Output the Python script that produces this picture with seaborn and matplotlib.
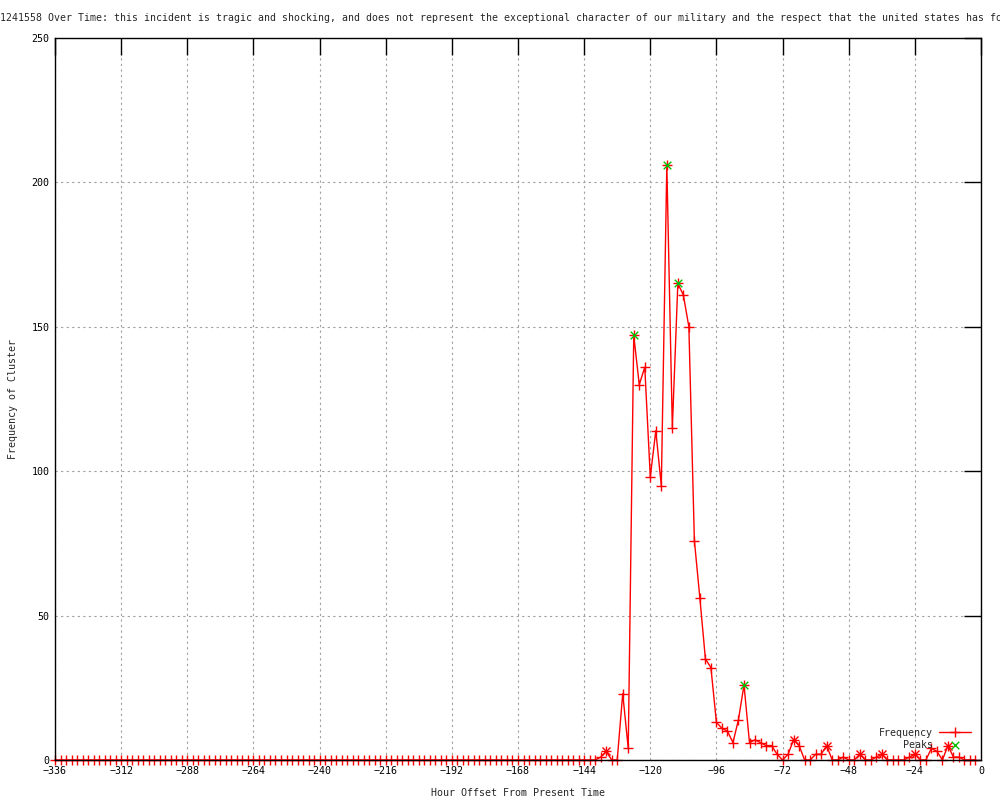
import numpy as np
import pandas as pd
import seaborn as sns
import matplotlib.pyplot as plt

# two-hour bins over the last two weeks
hours = np.arange(-336, 0, 2)

early_counts = [0, 0, 0, 0, 0, 0, 0, 0, 0, 0, 0, 0, 0, 0, 0, 0, 0, 0, 0, 0,
                0, 0, 0, 0, 0, 0, 0, 0, 0, 0, 0, 0, 0, 0, 0, 0, 0, 0, 0, 0,
                0, 0, 0, 0, 0, 0, 0, 0, 0, 0, 0, 0, 0, 0, 0, 0, 0, 0, 0, 0,
                0, 0, 0, 0, 0, 0, 0, 0, 0, 0, 0, 0, 0, 0, 0, 0, 0, 0, 0, 0,
                0, 0, 0, 0, 0, 0, 0, 0, 0, 0, 0, 0, 0, 0, 0, 0, 0, 0, 0]
late_counts = [1, 3, 0, 0, 23, 4, 147, 130, 136, 98, 114, 95, 206, 115, 165,
               161, 150, 76, 56, 35, 32, 13, 11, 10, 6, 14, 26, 6, 7, 6, 5, 5,
               2, 0, 2, 7, 5, 0, 0, 2, 2, 5, 0, 0, 1, 0, 0, 2, 0, 0, 1, 2, 0,
               0, 0, 0, 1, 2, 0, 0, 4, 3, 0, 5, 1, 1, 0, 0, 0]
frequency = early_counts + late_counts

peak_hours = [-126, -114, -110, -86]
minor_peak_hours = [-136, -68, -56, -44, -36, -24, -12]

df = pd.DataFrame({'hour': hours, 'freq': frequency})
peaks = df[df['hour'].isin(peak_hours)]
minor = df[df['hour'].isin(minor_peak_hours)]

title = ("1241558 Over Time: this incident is tragic and shocking, and does not "
         "represent the exceptional character of our military and the respect "
         "that the united states has fo")

sns.set_style('white')
mono = ['DejaVu Sans Mono']
plt.rcParams['font.family'] = mono
plt.rcParams['font.size'] = 7.2

fig = plt.figure(figsize=(10, 8), dpi=100)
ax = fig.add_axes([0.055, 0.05, 0.926, 0.9025])

sns.lineplot(data=df, x='hour', y='freq', ax=ax, color='#ff0000', linewidth=1,
             marker='+', markersize=7, markeredgewidth=1, markeredgecolor='#ff0000',
             label='Frequency', clip_on=False)
ax.plot(minor['hour'], minor['freq'], linestyle='none', marker='x', markersize=5.5,
        markeredgewidth=1, color='#ff0000', clip_on=False)
sns.scatterplot(data=peaks, x='hour', y='freq', ax=ax, marker='x', s=30,
                color='#00c000', linewidth=1, label='Peaks', zorder=5, clip_on=False)

ax.set_xlim(-336, 0)
ax.set_ylim(0, 250)
ax.set_xticks(np.arange(-336, 1, 24))
ax.set_yticks(np.arange(0, 251, 50))
ax.grid(True, color='#a0a0a0', linestyle=(0, (2, 3)), linewidth=0.8)
ax.tick_params(direction='in', length=12, width=1, top=True, right=True,
               labelsize=7.2, pad=4, colors='black')
for s in ax.spines.values():
    s.set_color('black')
    s.set_linewidth(1)

ax.set_xlabel('Hour Offset From Present Time', fontsize=7.2, labelpad=9)
ax.set_ylabel('Frequency of Cluster', fontsize=7.2, labelpad=10)

fig.text(0.0, 0.977, title, ha='left', va='center', fontsize=7.15, family=mono)

leg = ax.legend(loc='lower right', frameon=False, markerfirst=False,
                fontsize=7.2, handlelength=3.2, borderaxespad=0.6,
                labelspacing=0.25, handletextpad=0.6)

fig.savefig('out.png', dpi=100)
